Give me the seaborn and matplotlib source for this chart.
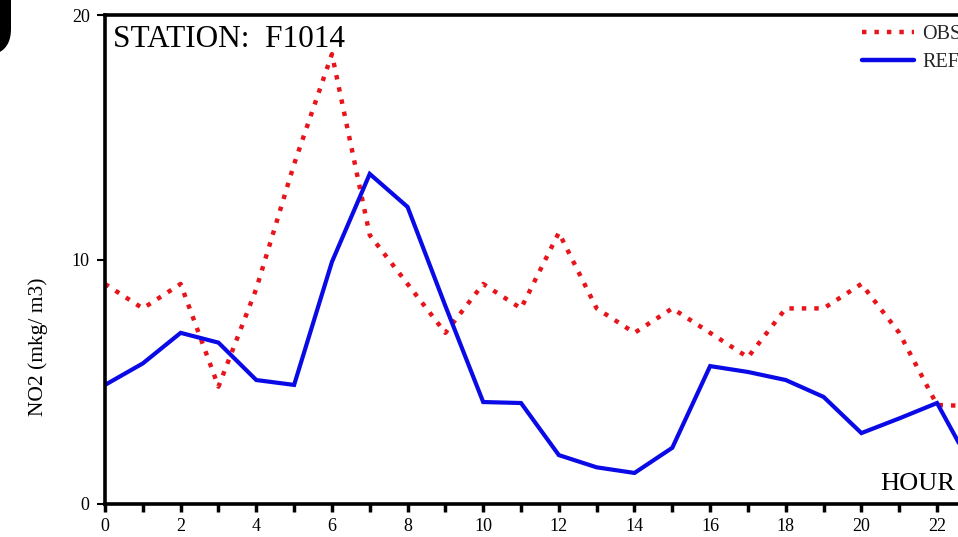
import matplotlib
matplotlib.use("Agg")
import matplotlib.pyplot as plt
import seaborn as sns
import pandas as pd
from matplotlib.lines import Line2D

# Hourly NO2 at station F1014: observed vs reference run
hours = list(range(24))
obs = [9.0, 8.0, 9.0, 4.8, 8.8, 13.9, 18.4, 11.0, 9.0, 7.0, 9.0, 8.0,
       11.1, 8.0, 7.0, 8.0, 7.0, 6.0, 8.0, 8.0, 9.0, 7.0, 4.05, 4.0]
ref = [4.87, 5.75, 7.0, 6.6, 5.07, 4.87, 9.9, 13.5, 12.15, 8.1, 4.17, 4.13,
       2.0, 1.5, 1.27, 2.3, 5.64, 5.4, 5.07, 4.38, 2.9, 3.5, 4.13, 1.3]
yticks = [0, 10, 20]
station = "STATION:  F1014"

sns.set_theme(style="ticks")
plt.rcParams["font.family"] = ["Liberation Serif", "DejaVu Serif"]

W, H = 958, 537
fig = plt.figure(figsize=(W / 100, H / 100), dpi=100)
x0, x1 = 105, 105 + 24 * 37.82
y0, y1 = 504, 15
ax = fig.add_axes([x0 / W, 1 - y0 / H, (x1 - x0) / W, (y0 - y1) / H])

df = pd.DataFrame({"hour": hours, "OBS": obs, "REF": ref})
sns.lineplot(data=df, x="hour", y="OBS", ax=ax, color="#e8141b",
             linewidth=3.2, linestyle=(0, (1.0, 1.8)), dash_capstyle="butt")
sns.lineplot(data=df, x="hour", y="REF", ax=ax, color="#0a0ae6",
             linewidth=3.0, solid_joinstyle="miter")

ax.set_xlim(0, 24)
ax.set_ylim(0, 20)
ax.set_xticks(range(0, 25))
ax.set_xticklabels([str(h) if h % 2 == 0 else "" for h in range(25)])
ax.set_yticks(yticks)
ax.set_yticklabels([str(v) for v in yticks])
ax.tick_params(axis="x", direction="out", length=6, width=2.5,
               labelsize=13, pad=4, colors="black")
ax.tick_params(axis="y", direction="out", length=6, width=1.5,
               labelsize=13, pad=5, colors="black")
ax.set_xlabel("")
ax.set_ylabel("")
for side in ["left", "bottom", "top", "right"]:
    ax.spines[side].set_visible(True)
    ax.spines[side].set_linewidth(2.6)
    ax.spines[side].set_color("black")

fig.text(38 / W, 1 - 347 / H, "NO2 (mkg/ m3)", rotation=90,
         ha="center", va="center", fontsize=15.5, color="black")
fig.text(113 / W, 1 - 47 / H, station, ha="left", va="baseline",
         fontsize=22.5, color="black")
fig.text(955 / W, 1 - 490 / H, "HOUR", ha="right", va="baseline",
         fontsize=19, color="black")

# panel letter
fig.text(20 / W, 1 - 36 / H, "J", ha="right", va="baseline",
         fontsize=72, fontweight="heavy", family="DejaVu Sans", color="black")

handles = [
    Line2D([], [], color="#e8141b", linewidth=3.2, linestyle=(0, (1.0, 1.8))),
    Line2D([], [], color="#0a0ae6", linewidth=3.2),
]
fig.legend(handles, ["OBS", "REF"], loc="upper left",
           bbox_to_anchor=(862 / W, 1 - 25 / H), frameon=False,
           fontsize=14.5, handlelength=2.6, handletextpad=0.4,
           labelspacing=0.45, borderpad=0, borderaxespad=0)

fig.savefig("out.png", dpi=100)
